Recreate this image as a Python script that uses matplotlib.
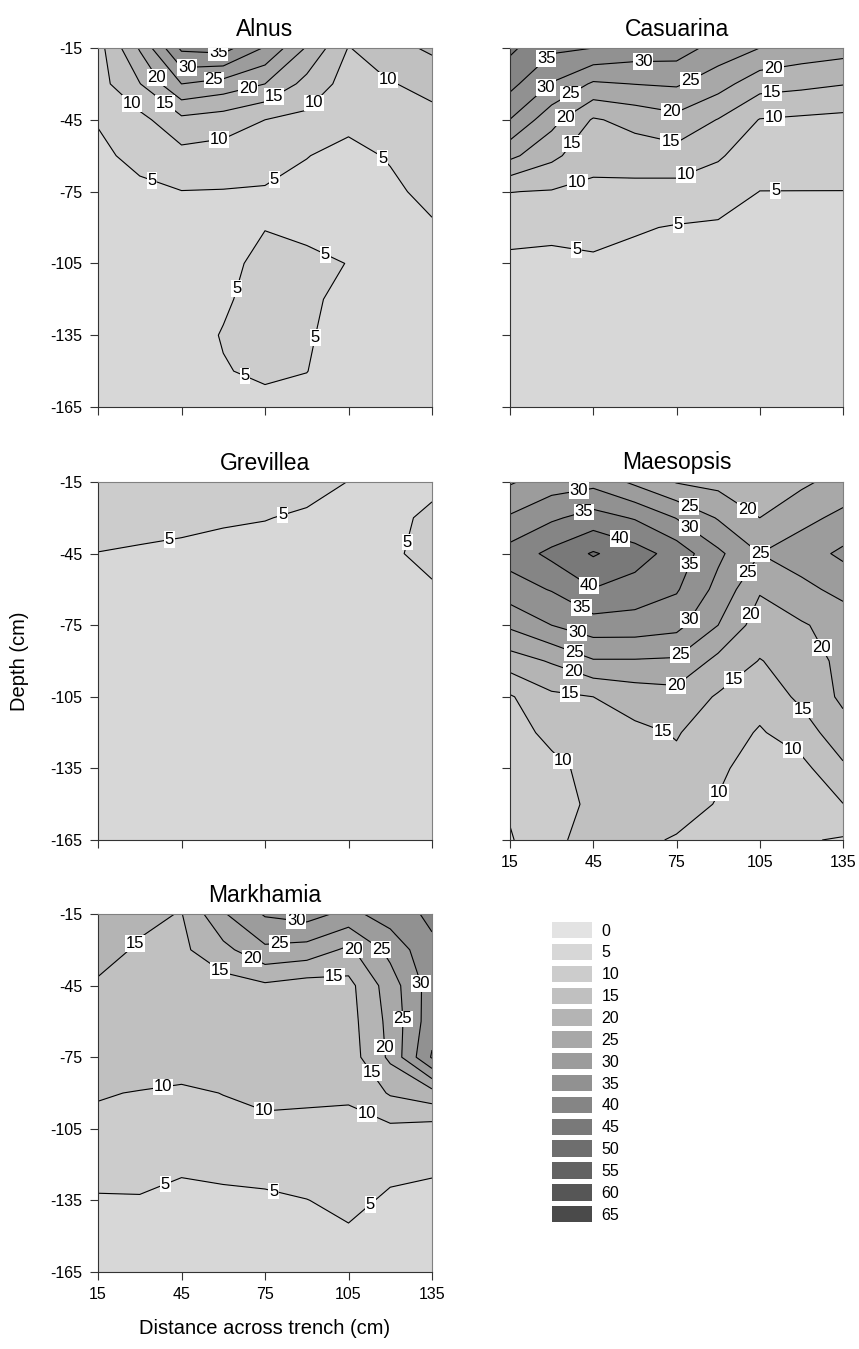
import numpy as np
import matplotlib.pyplot as plt
from matplotlib.patches import Patch

plt.rcParams['font.family'] = ['Liberation Sans', 'DejaVu Sans']
plt.rcParams['axes.unicode_minus'] = False

# Grid of the measurements (cm)
distance = [15, 30, 45, 60, 75, 90, 105, 120, 135]
depth = [-15, -30, -45, -60, -75, -90, -105, -120, -135, -150, -165]

# One row per depth, one column per distance
alnus = [
    [8, 20.5, 36, 37, 29.5, 19.5, 9.8, 13, 16],
    [8, 14.8, 25, 23, 20, 13.3, 8, 9.8, 11],
    [5.3, 8.5, 13.75, 12.5, 10, 8.8, 5.9, 7.6, 9],
    [4, 6.3, 8.4, 7.8, 6.95, 5.1, 4, 5.3, 7.5],
    [3, 4, 4.9, 4.8, 4.6, 4, 3.5, 4.3, 6],
    [3, 3.5, 4, 4.2, 4.9, 4, 3.5, 3.8, 4.6],
    [3, 3.5, 3.8, 4, 6, 6, 4.9, 3.8, 4],
    [3, 3.3, 3.8, 4.5, 6.5, 6, 3.5, 3.5, 3.8],
    [3, 3.2, 3.5, 5.2, 6.5, 5.4, 3.5, 3.5, 3.6],
    [3, 3, 3.4, 4.8, 5.6, 5.05, 3.5, 3.4, 3.5],
    [3, 3, 3.2, 3.8, 4, 4, 3.3, 3.3, 3.4],
]

casuarina = [
    [41, 36, 35, 33, 32.5, 28, 25, 23, 22],
    [36.5, 29.7, 24.3, 25.1, 25.6, 22, 17, 16.2, 15.2],
    [29.9, 21.7, 14.5, 16.5, 18.5, 14.8, 9.8, 9.2, 8.7],
    [21.2, 16.2, 11.5, 12.5, 13, 10.5, 7.5, 7, 6.8],
    [10.1, 9.7, 9, 8.5, 8.2, 7.5, 4.95, 4.95, 4.95],
    [6.6, 6, 6.5, 5.4, 4.7, 4.3, 4, 4, 4],
    [4, 4, 4.3, 3.8, 3.5, 3.5, 3.5, 3.5, 3.5],
    [3.5, 3.5, 3.5, 3.5, 3.2, 3.2, 3.2, 3.2, 3.2],
    [3.2, 3.2, 3.2, 3.2, 3, 3, 3, 3, 3],
    [3, 3, 3, 3, 3, 3, 3, 3, 3],
    [3, 3, 3, 3, 3, 3, 3, 3, 3],
]

grevillea = [
    [7, 7, 7, 6.5, 6.5, 6, 4.95, 4.5, 4.5],
    [6, 6.5, 6, 5.4, 5.1, 4.6, 4.2, 4.5, 5.4],
    [4.95, 4.5, 4.2, 4, 4, 4, 4, 4.5, 6],
    [4, 4, 4, 4, 4, 4, 4, 4.2, 4.6],
    [3.8, 3.8, 3.8, 3.8, 3.8, 3.8, 3.8, 3.8, 3.8],
    [3.5, 3.5, 3.5, 3.5, 3.5, 3.5, 3.5, 3.5, 3.5],
    [3.5, 3.5, 3.5, 3.5, 3.5, 3.5, 3.5, 3.5, 3.5],
    [3.5, 3.5, 3.5, 3.5, 3.5, 3.5, 3.5, 3.5, 3.5],
    [3.5, 3.5, 3.5, 3.5, 3.5, 3.5, 3.5, 3.5, 3.5],
    [3.5, 3.5, 3.5, 3.5, 3.5, 3.5, 3.5, 3.5, 3.5],
    [3.5, 3.5, 3.5, 3.5, 3.5, 3.5, 3.5, 3.5, 3.5],
]

maesopsis = [
    [24.5, 27.5, 28.5, 24, 19.7, 18.5, 16.5, 19, 22],
    [30.6, 34.2, 37, 34.6, 29.8, 24.6, 20, 23.6, 26.2],
    [37, 41.3, 45.5, 42.2, 38, 31, 25, 27.6, 31],
    [32.9, 35.3, 39.8, 38, 35.5, 28.5, 20.5, 23.6, 26.5],
    [25.9, 30, 32.8, 32.7, 31.5, 25, 17.5, 19.5, 22],
    [17.6, 20.5, 24.6, 24.6, 24.3, 18.6, 14.8, 17, 21.5],
    [9.5, 14, 15, 17, 18, 14.5, 12, 16, 21],
    [8.4, 11, 13, 14, 15.3, 12.7, 9.5, 12.6, 18],
    [7, 9, 11.2, 13, 14, 10.8, 8, 8.5, 14.2],
    [5.8, 8.5, 10.7, 12.5, 12, 9.7, 7, 7.5, 9.9],
    [4.5, 9.5, 10.8, 11, 9.6, 8.5, 6.5, 5.5, 4.5],
]

markhamia = [
    [17.5, 16, 14.8, 24.5, 30.5, 32, 28.5, 32.5, 36],
    [16.5, 14.5, 14, 18.5, 24, 23, 19, 26.5, 34],
    [14.5, 14, 13.5, 13, 14.2, 12.8, 13.5, 22.5, 32.5],
    [13.5, 13.5, 13.2, 13, 13, 12.5, 13, 21.5, 33],
    [12.5, 12.5, 12.5, 12, 12, 12, 12.5, 21, 35.5],
    [10.3, 9.8, 9.2, 10.1, 10.8, 10.5, 10.5, 15.5, 18],
    [9, 8.7, 8.2, 8.5, 9.2, 9.3, 9, 9.0, 8],
    [7, 7, 5.4, 6, 6.5, 7.5, 7.5, 6.2, 5.3],
    [4.5, 4.6, 4.3, 4.2, 4.3, 4.9, 6.2, 4.3, 4.5],
    [3.5, 3.5, 3.5, 3.5, 3.5, 3.8, 4.3, 3.5, 3.8],
    [3, 3, 3, 3, 3, 3.2, 3.5, 3.2, 3.3],
]

levels = list(range(0, 70, 5))
grays = ['#e3e3e3', '#d7d7d7', '#cccccc', '#c0c0c0', '#b4b4b4', '#a8a8a8', '#9c9c9c',
         '#919191', '#858585', '#797979', '#6e6e6e', '#626262', '#565656', '#4a4a4a']

W, H = 859, 1349
fig = plt.figure(figsize=(W / 100, H / 100), dpi=100)


def px_axes(left, top, right, bottom):
    return fig.add_axes([left / W, 1 - bottom / H, (right - left) / W, (bottom - top) / H])


def label_spots(ax, cs, step=115, margin=14):
    # spread labels along every contour piece, SigmaPlot style, without overlaps
    spots, taken = [], []
    for segs in cs.allsegs:
        for seg in segs:
            if len(seg) < 2:
                continue
            pts = ax.transData.transform(seg)
            d = np.r_[0, np.cumsum(np.hypot(*np.diff(pts, axis=0).T))]
            total = d[-1]
            if total < 30:
                continue
            lo, hi = (margin, total - margin) if total > 2 * margin else (total / 2, total / 2)
            usable = max(hi - lo, 1)
            n = max(1, int(round(usable / step)))
            for k in range(n):
                s0 = lo + usable * (k + 0.5) / n
                for shift in [0, 12, -12, 24, -24, 36, -36, 48, -48]:
                    s = min(max(s0 + shift, lo), hi)
                    p = np.array([np.interp(s, d, pts[:, 0]), np.interp(s, d, pts[:, 1])])
                    if all(abs(p[0] - q[0]) > 24 or abs(p[1] - q[1]) > 17 for q in taken):
                        taken.append(p)
                        spots.append(tuple(ax.transData.inverted().transform(p)))
                        break
    return spots


panels = [
    ("Alnus", alnus, (98, 48, 432, 407), False, True),
    ("Casuarina", casuarina, (510, 48, 843, 407), False, False),
    ("Grevillea", grevillea, (98, 482, 432, 840), False, True),
    ("Maesopsis", maesopsis, (510, 482, 843, 840), True, False),
    ("Markhamia", markhamia, (98, 914, 432, 1272), True, True),
]

for name, z, rect, xlab, ylab in panels:
    ax = px_axes(*rect)
    ax.set_xlim(15, 135)
    ax.set_ylim(-165, -15)
    # band [0,5) takes the "5" swatch, [5,10) the "10" swatch, ...
    ax.contourf(distance, depth, z, levels=levels, colors=grays[1:])
    cs = ax.contour(distance, depth, z, levels=levels[1:], colors='black', linewidths=0.8)
    spots = label_spots(ax, cs)
    for t in ax.clabel(cs, fmt='%d', fontsize=12, inline=False, manual=spots):
        t.set_rotation(0)
        t.set_bbox(dict(facecolor='white', edgecolor='none', pad=0.6))
    ax.set_xticks([15, 45, 75, 105, 135])
    ax.set_yticks([-15, -45, -75, -105, -135, -165])
    ax.tick_params(direction='out', length=6, width=0.8, labelsize=11.5, color='#333333', pad=5)
    if not xlab:
        ax.set_xticklabels([])
    if not ylab:
        ax.set_yticklabels([])
    for side in ['left', 'bottom']:
        ax.spines[side].set_color('#333333')
    for side in ['top', 'right']:
        ax.spines[side].set_color('#808080')
    ax.set_title(name, fontsize=16.5, pad=9)

fig.text(20 / W, 1 - 661 / H, 'Depth (cm)', rotation=90, fontsize=14.5, ha='center', va='center')
fig.text(265 / W, 1 - 1329 / H, 'Distance across trench (cm)', fontsize=14.5, ha='center', va='center')

handles = [Patch(facecolor=c, edgecolor='none') for c in grays]
fig.legend(handles, [str(v) for v in levels], loc='upper left',
           bbox_to_anchor=(552 / W, 1 - 922 / H), frameon=False, fontsize=11.5,
           handlelength=2.5, handleheight=1.2, labelspacing=0.33, handletextpad=0.6,
           borderpad=0, borderaxespad=0)

fig.savefig('out.png', dpi=100)
